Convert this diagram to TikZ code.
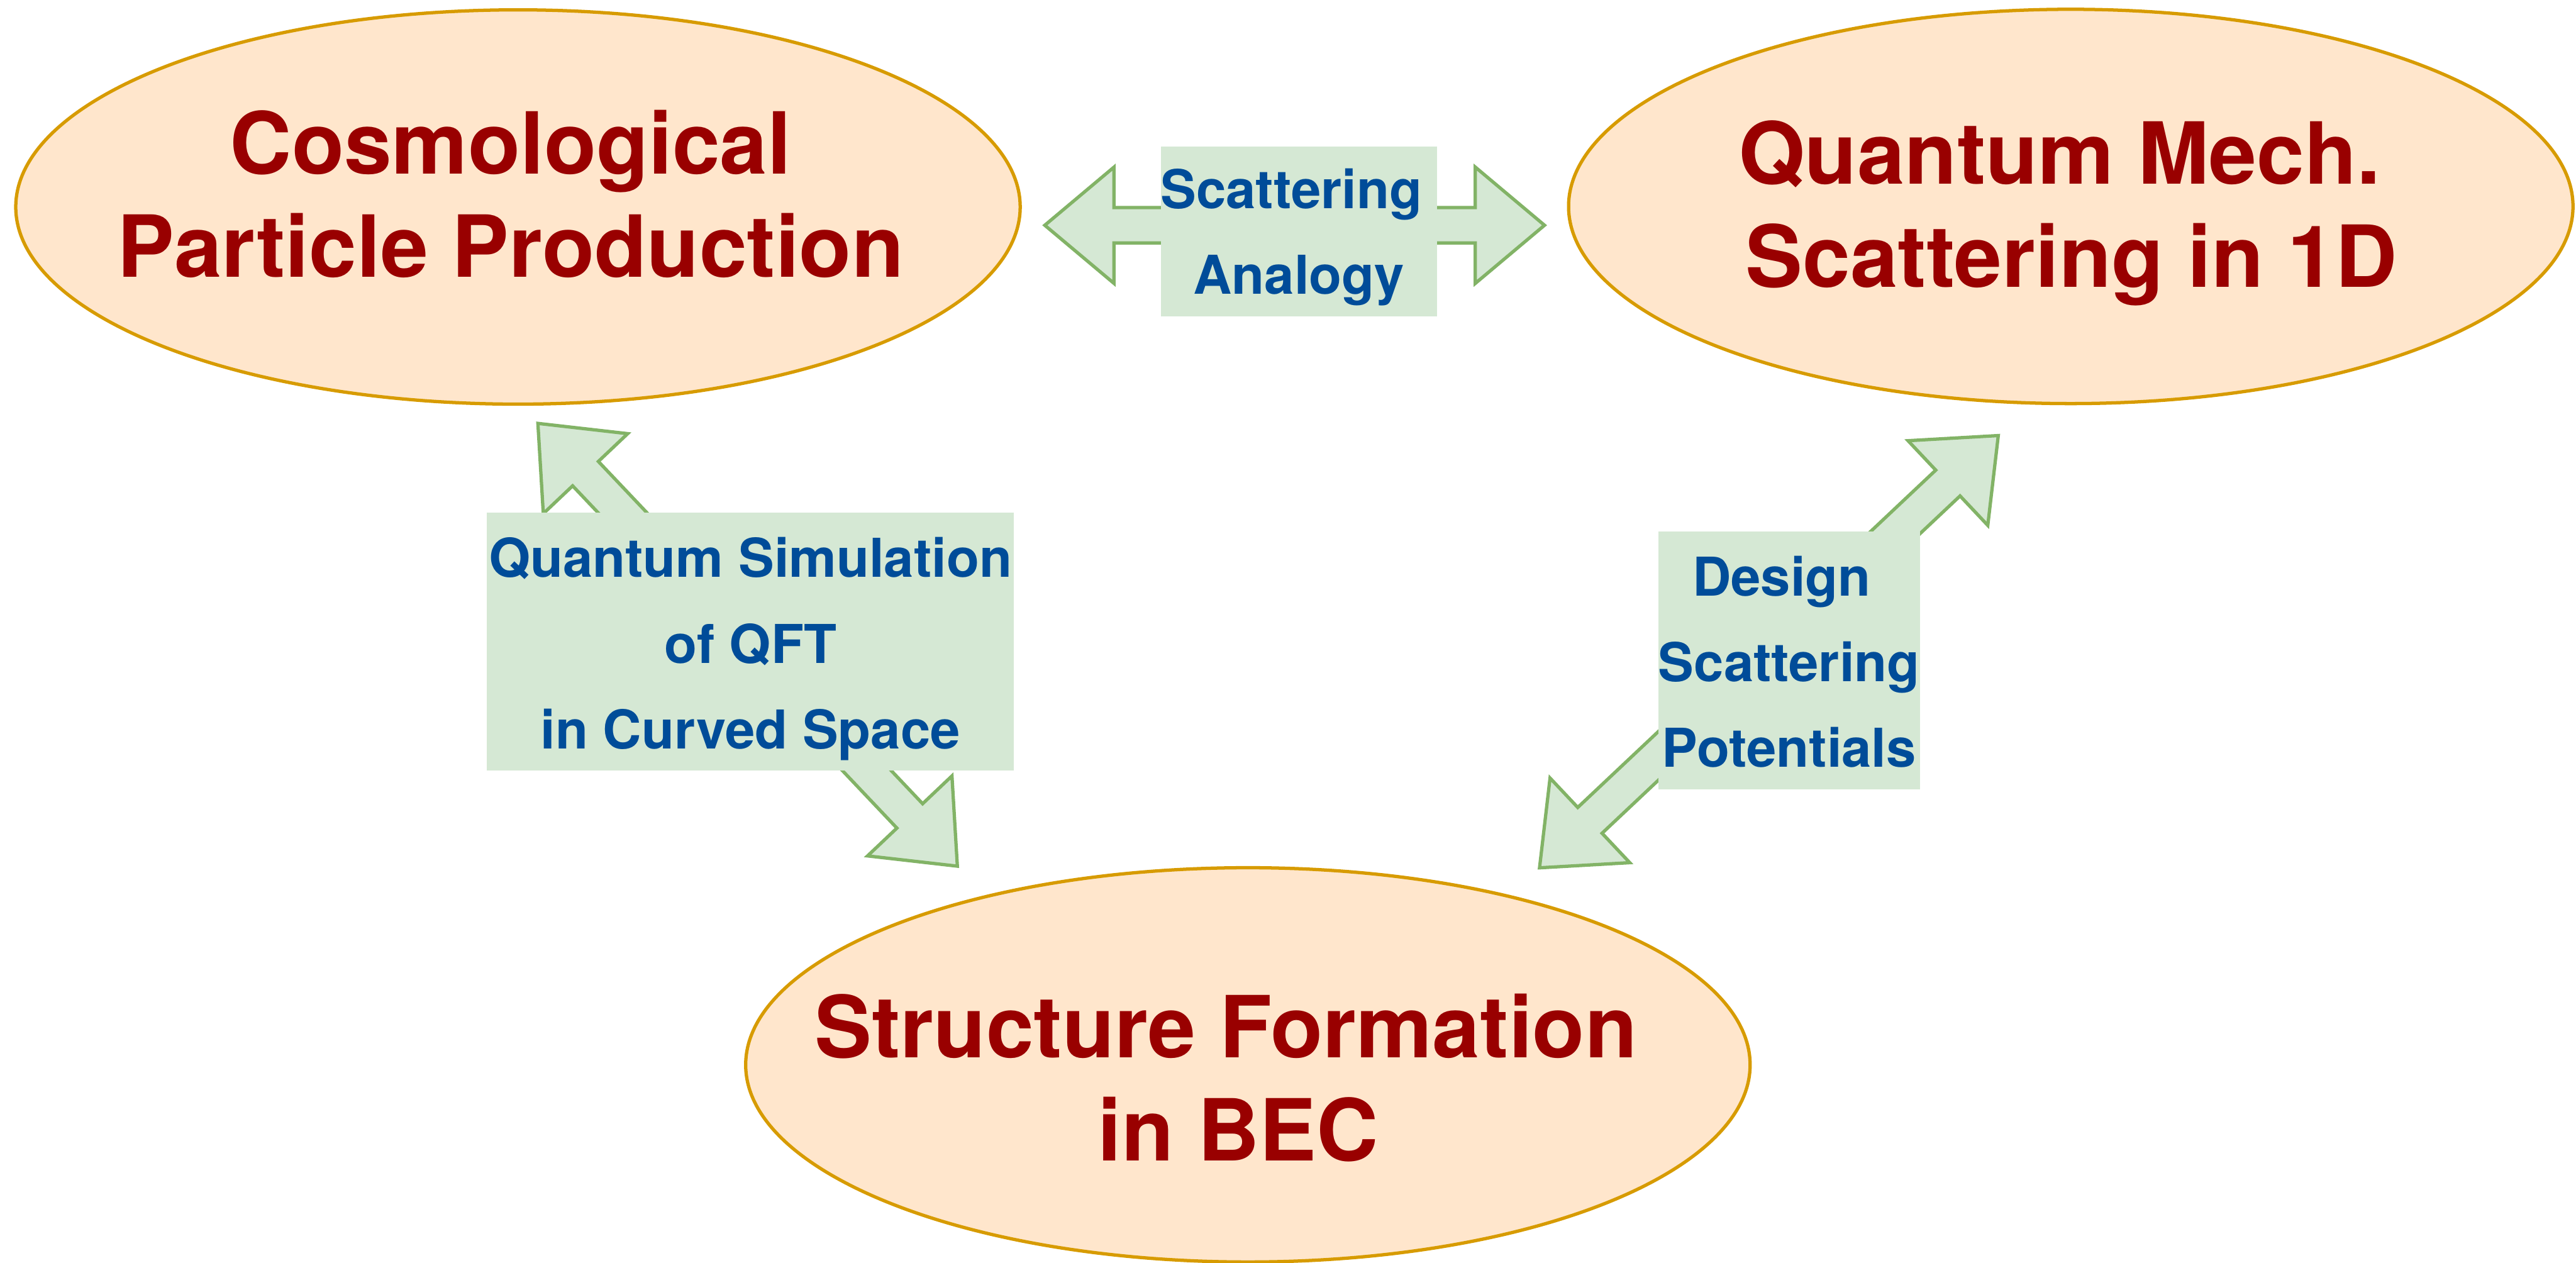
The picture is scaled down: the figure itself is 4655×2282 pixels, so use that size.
\documentclass[tikz,border=0pt]{standalone}
\usepackage{fontspec}
\setmainfont{TeX Gyre Heros}
\usetikzlibrary{calc,shapes.geometric}
\definecolor{bubblefill}{HTML}{FFE6CC}
\definecolor{bubbleline}{HTML}{D79B00}
\definecolor{arrowfill}{HTML}{D5E8D4}
\definecolor{arrowline}{HTML}{82B366}
\definecolor{titlered}{HTML}{990000}
\definecolor{labelblue}{HTML}{004C99}
\newcommand\twowayarrow[2]{%
  \coordinate (hbA) at ($(#1)!1.25cm!(#2)$);
  \coordinate (hbB) at ($(#2)!1.25cm!(#1)$);
  \draw[blockarrow] (#1) -- ($(hbA)!1.05cm!90:(#2)$) -- ($(hbA)!0.32cm!90:(#2)$)
    -- ($(hbB)!0.32cm!-90:(#1)$) -- ($(hbB)!1.05cm!-90:(#1)$) -- (#2)
    -- ($(hbB)!1.05cm!90:(#1)$) -- ($(hbB)!0.32cm!90:(#1)$)
    -- ($(hbA)!0.32cm!-90:(#2)$) -- ($(hbA)!1.05cm!-90:(#2)$) -- cycle;}
\tikzset{
  bubble/.style={ellipse, draw=bubbleline, fill=bubblefill, line width=1.7pt,
    minimum width=18.14cm, minimum height=7.12cm, inner sep=0pt, outer sep=0pt},
  titletext/.style={text=titlered, font=\bfseries\fontsize{44}{53}\selectfont,
    align=center, inner sep=0pt},
  labelbox/.style={fill=arrowfill, inner sep=0pt, outer sep=0pt},
  labeltext/.style={text=labelblue, font=\bfseries\fontsize{27.5}{44}\selectfont,
    align=center, inner sep=0pt},
  blockarrow/.style={draw=arrowline, fill=arrowfill, line width=1.7pt, line join=miter}
}
\begin{document}
\begin{tikzpicture}[x=0.01cm,y=-0.01cm]
\useasboundingbox (0,0) rectangle (4655,2282);
% bubbles
\node[bubble] (cpp) at (936,374) {};
\node[bubble] (qms) at (3742,373) {};
\node[bubble] (sfb) at (2255,1924) {};
\node[titletext] (cpptxt) at (923,350.5) {Cosmological\\Particle Production};
\node[titletext] (qmstxt) at (3743,385) {Quantum Mech.\hspace*{0.278em}\\Scattering in 1D};
\node[titletext] (sfbtxt) at (2237,1948) {Structure Formation\hspace*{0.278em}\\in BEC};
% arrow end points
\coordinate (topL) at (1888,407);
\coordinate (topR) at (2791,407);
\coordinate (leftU) at (972,765);
\coordinate (leftD) at (1730,1565);
\coordinate (rightD) at (2782,1568);
\coordinate (rightU) at (3611,787);
\twowayarrow{topL}{topR}
\twowayarrow{leftU}{leftD}
\twowayarrow{rightD}{rightU}
% label boxes
\node[labelbox, minimum width=4.99cm, minimum height=3.07cm] (scatbox) at (2347,418) {};
\node[labelbox, minimum width=9.52cm, minimum height=4.66cm] (simbox) at (1356,1159) {};
\node[labelbox, minimum width=4.72cm, minimum height=4.66cm] (desbox) at (3233,1193) {};
\node[labeltext] (scattxt) at (2347,429) {Scattering\hspace*{0.278em}\\Analogy};
\node[labeltext] (simtxt) at (1356,1172.5) {Quantum Simulation\\of QFT\\in Curved Space};
\node[labeltext] (destxt) at (3233,1195.5) {Design\hspace*{0.278em}\\Scattering\\Potentials};
\end{tikzpicture}
\end{document}
